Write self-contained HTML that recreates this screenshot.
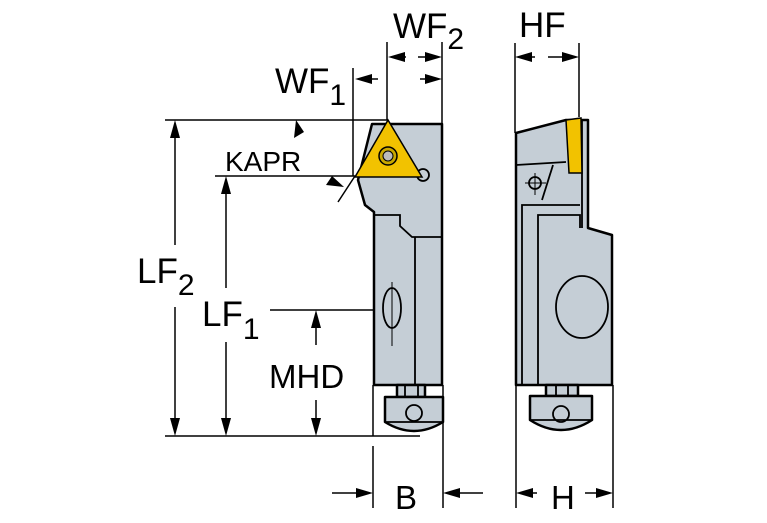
<!DOCTYPE html>
<html><head><meta charset="utf-8"><style>
html,body{margin:0;padding:0;background:#fff;width:767px;height:523px;overflow:hidden}
svg{display:block}
text{font-family:"Liberation Sans",sans-serif;fill:#000}
</style></head><body>
<svg width="767" height="523" viewBox="0 0 767 523" xmlns="http://www.w3.org/2000/svg">
<g stroke="#000" stroke-width="1.5" fill="none">
<line x1="165" y1="120" x2="388" y2="120"/>
<line x1="215" y1="176" x2="355" y2="176"/>
<line x1="165" y1="436" x2="420" y2="436"/>
<line x1="270" y1="310" x2="405" y2="310"/>
<line x1="353" y1="68" x2="353" y2="176"/>
<line x1="387" y1="42" x2="387" y2="120"/>
<line x1="442" y1="42" x2="442" y2="124"/>
<line x1="515" y1="43" x2="515" y2="133"/>
<line x1="579" y1="43" x2="579" y2="117"/>
<line x1="373" y1="385" x2="373" y2="436"/>
<line x1="373" y1="446" x2="373" y2="508"/>
<line x1="443" y1="385" x2="443" y2="508"/>
<line x1="516" y1="385" x2="516" y2="508"/>
<line x1="613" y1="385" x2="613" y2="508"/>
<line x1="175" y1="125" x2="175" y2="245"/>
<line x1="175" y1="307" x2="175" y2="430"/>
<line x1="226" y1="180" x2="226" y2="288"/>
<line x1="226" y1="342" x2="226" y2="430"/>
<line x1="316" y1="315" x2="316" y2="345"/>
<line x1="316" y1="400" x2="316" y2="430"/>
<line x1="338" y1="202" x2="355" y2="176"/>
<line x1="360" y1="79" x2="378" y2="79"/>
<line x1="392" y1="57" x2="406" y2="57"/>
<line x1="418" y1="57" x2="438" y2="57"/>
<line x1="420" y1="79" x2="438" y2="79"/>
<line x1="520" y1="57" x2="535" y2="57"/>
<line x1="548" y1="57" x2="575" y2="57"/>
<line x1="332" y1="493" x2="368" y2="493"/>
<line x1="448" y1="493" x2="483" y2="493"/>
<line x1="520" y1="493" x2="537" y2="493"/>
<line x1="585" y1="493" x2="609" y2="493"/>
</g>
<g fill="#000">
<polygon points="175,120 170,138 180,138"/>
<polygon points="175,436 170,418 180,418"/>
<polygon points="226,176 221,194 231,194"/>
<polygon points="226,436 221,418 231,418"/>
<polygon points="316,310 311,328 321,328"/>
<polygon points="316,436 311,418 321,418"/>
<polygon points="296,120 294,138 304,132"/>
<polygon points="344,187 326,185 332,176"/>
<polygon points="355,79 372,74 372,84"/>
<polygon points="388,57 405,52 405,62"/>
<polygon points="442,57 425,52 425,62"/>
<polygon points="442,79 425,74 425,84"/>
<polygon points="515,57 532,52 532,62"/>
<polygon points="579,57 562,52 562,62"/>
<polygon points="373,493 356,488 356,498"/>
<polygon points="443,493 460,488 460,498"/>
<polygon points="516,493 533,488 533,498"/>
<polygon points="613,493 596,488 596,498"/>
</g>
<g stroke="#000" stroke-width="2.5" fill="#c5ced6" stroke-linejoin="round">
<path d="M372,124 L442,124 L442,385 L374,385 L374,212 L365,205 L358,180 Z"/>
<rect x="397" y="385" width="28" height="12"/>
<path d="M385,397 L443,397 L443,422 Q414,440 385,422 Z"/>
</g>
<g stroke="#000" stroke-width="1.8" fill="none">
<path d="M374,215 L400,215 L400,226 L412,237 L442,237"/>
<line x1="415" y1="237" x2="415" y2="385"/>
<line x1="405" y1="385" x2="405" y2="397"/>
<line x1="418" y1="385" x2="418" y2="397"/>
<line x1="385" y1="422" x2="443" y2="422"/>
<circle cx="414" cy="413" r="8"/>
<circle cx="423" cy="175" r="6"/>
<ellipse cx="392" cy="308" rx="9" ry="20"/>
<line x1="392" y1="282" x2="392" y2="346" stroke-width="1"/>
</g>
<polygon points="388,120 355,177 422,177" fill="#f2c200" stroke="#000" stroke-width="1.5"/>
<circle cx="388" cy="156" r="9" fill="#c9a800" stroke="#000" stroke-width="1.5"/>
<circle cx="388" cy="156" r="5" fill="#bbb" stroke="#000" stroke-width="1"/>
<g stroke="#000" stroke-width="2.5" fill="#c5ced6" stroke-linejoin="round">
<path d="M516,133 L566,120 L588,120 L588,228 L612,235 L612,385 L516,385 Z"/>
<rect x="546" y="385" width="32" height="11"/>
<path d="M530,396 L592,396 L592,420 Q561,440 530,420 Z"/>
</g>
<g stroke="#000" stroke-width="1.8" fill="none">
<path d="M522,385 L522,205 L580,205"/>
<path d="M538,385 L538,215 L580,215 L580,228"/>
<line x1="582" y1="120" x2="582" y2="228"/>
<line x1="516" y1="165" x2="566" y2="162"/>
<line x1="553" y1="165" x2="542" y2="200"/>
<circle cx="535" cy="183" r="6"/>
<line x1="525" y1="183" x2="546" y2="183" stroke-width="1"/>
<line x1="535" y1="173" x2="535" y2="195" stroke-width="1"/>
<ellipse cx="582" cy="307" rx="26" ry="31"/>
<line x1="556" y1="385" x2="556" y2="396"/>
<line x1="568" y1="385" x2="568" y2="396"/>
<line x1="530" y1="420" x2="592" y2="420"/>
<circle cx="561" cy="414" r="8"/>
</g>
<polygon points="566,120 581,118 582,173 569,173" fill="#f2c200" stroke="#000" stroke-width="1.5"/>
<text x="393" y="38" font-size="35">WF<tspan font-size="30" dy="11">2</tspan></text>
<text x="519" y="37" font-size="35">HF</text>
<text x="275" y="93" font-size="35">WF<tspan font-size="30" dy="12">1</tspan></text>
<text x="137" y="283" font-size="35">LF<tspan font-size="30" dy="12">2</tspan></text>
<text x="202" y="326" font-size="35">LF<tspan font-size="30" dy="13">1</tspan></text>
<text x="269" y="388" font-size="33">MHD</text>
<text x="395" y="509" font-size="33">B</text>
<text x="551" y="509" font-size="33">H</text>
<text x="225" y="171" font-size="28">KAPR</text>
</svg>
</body></html>
